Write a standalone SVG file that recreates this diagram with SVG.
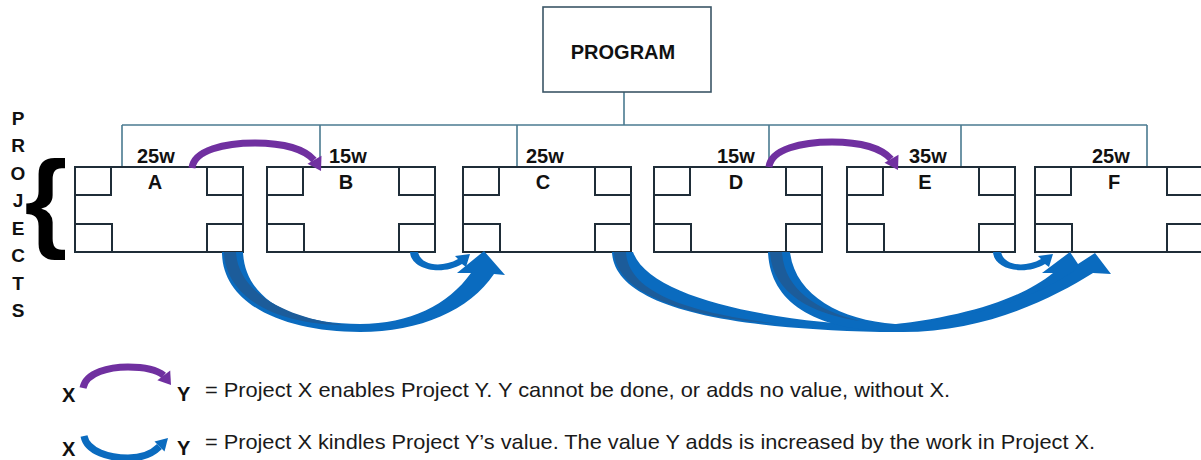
<svg xmlns="http://www.w3.org/2000/svg" width="1201" height="460" viewBox="0 0 1201 460">
<defs>
<style>
.bx{fill:#fff;stroke:#1f2d38;stroke-width:2}
.sq{fill:#fff;stroke:#1f2d38;stroke-width:2}
.ln{fill:none;stroke:#4a7a90;stroke-width:1.6}
.lb{font-family:"Liberation Sans",Arial,sans-serif;font-weight:bold;font-size:20px;fill:#111}
.pj{font-family:"Liberation Sans",Arial,sans-serif;font-weight:bold;font-size:19px;fill:#111;text-anchor:middle}
.lg{font-family:"Liberation Sans",Arial,sans-serif;font-size:21px;fill:#1a1a1a}
.pa{fill:none;stroke:#7030a0;stroke-width:7}
.ph{fill:#7030a0}
.bl{fill:#0a6bbf}
.bd{fill:#1c5c9a}
</style>
<g id="proj">
<rect class="bx" x="0" y="0" width="168" height="85"/>
<rect class="sq" x="0" y="0" width="36" height="28"/>
<rect class="sq" x="0" y="57" width="37" height="28"/>
<rect class="sq" x="132" y="0" width="36" height="28"/>
<rect class="sq" x="132" y="57" width="36" height="28"/>
</g>
</defs>
<rect width="1201" height="460" fill="#fff"/>

<g id="connectors">
<line class="ln" x1="624" y1="92" x2="624" y2="125"/>
<line class="ln" x1="122" y1="125" x2="1147" y2="125"/>
<line class="ln" x1="122" y1="125" x2="122" y2="167"/>
<line class="ln" x1="320" y1="125" x2="320" y2="167"/>
<line class="ln" x1="517" y1="125" x2="517" y2="167"/>
<line class="ln" x1="769" y1="125" x2="769" y2="167"/>
<line class="ln" x1="961" y1="125" x2="961" y2="167"/>
<line class="ln" x1="1147" y1="125" x2="1147" y2="167"/>
</g>

<g id="program">
<rect x="543" y="7" width="168" height="85" fill="#fff" stroke="#3b5666" stroke-width="1.6"/>
<text class="lb" x="623" y="59" text-anchor="middle" font-size="21">PROGRAM</text>
</g>

<g id="projects-label">
<text class="pj" x="18" y="125">P</text>
<text class="pj" x="18" y="152">R</text>
<text class="pj" x="18" y="180">O</text>
<text class="pj" x="18" y="207">J</text>
<text class="pj" x="18" y="235">E</text>
<text class="pj" x="18" y="262">C</text>
<text class="pj" x="18" y="290">T</text>
<text class="pj" x="18" y="317">S</text>
<text x="46" y="237" font-family="Liberation Sans,Arial,sans-serif" font-weight="bold" font-size="110" text-anchor="middle" fill="#000">{</text>
</g>

<g id="project-a"><use href="#proj" x="75" y="167"/><text class="lb" x="137" y="163">25w</text><text class="lb" x="155" y="189" text-anchor="middle">A</text></g>
<g id="project-b"><use href="#proj" x="267" y="167"/><text class="lb" x="329" y="163">15w</text><text class="lb" x="346" y="189" text-anchor="middle">B</text></g>
<g id="project-c"><use href="#proj" x="463" y="167"/><text class="lb" x="526" y="163">25w</text><text class="lb" x="543" y="189" text-anchor="middle">C</text></g>
<g id="project-d"><use href="#proj" x="654" y="167"/><text class="lb" x="717" y="163">15w</text><text class="lb" x="736" y="189" text-anchor="middle">D</text></g>
<g id="project-e"><use href="#proj" x="847" y="167"/><text class="lb" x="909" y="163">35w</text><text class="lb" x="925" y="189" text-anchor="middle">E</text></g>
<g id="project-f"><use href="#proj" x="1035" y="167"/><text class="lb" x="1092" y="163">25w</text><text class="lb" x="1114" y="189" text-anchor="middle">F</text></g>

<g id="dependency-arrows">
<g id="enable-ab">
<path class="pa" d="M192,168 C194,150 225,143 255,143 C285,143 305,150 314,160"/>
<polygon class="ph" points="321.5,155.7 307.5,163.7 321,171"/>
</g>
<g id="enable-de" transform="translate(577,-1)">
<path class="pa" d="M192,168 C194,150 225,143 255,143 C285,143 305,150 314,160"/>
<polygon class="ph" points="321.5,155.7 307.5,163.7 321,171"/>
</g>
<g id="kindle-ac">
<path class="bl" d="M222,252 C222,305 285,332 360,332 C420,332 470,310 494,274 L505,275 L484,251 L457,273 L471,273 C448,305 410,324 360,324 C290,324 245,298 243,252 Z"/>
<path class="bd" d="M224,252 L236,252 C238,292 285,318 345,325 C280,325 226,300 224,252 Z"/>
</g>
<g id="kindle-bc">
<path class="bl" d="M410,252 C411,270 442,276 462,264 L466,267 L470,254 L455,256 L458,259 C442,268 421,266 418,252 Z"/>
</g>
<g id="kindle-cf">
<path class="bl" d="M612,252 C614,300 700,328 880,332 C960,333 1030,305 1062,280 L1082,270 L1070,252 L1042,273 L1053,273 C1020,300 960,318 880,326 C780,322 650,300 633,252 Z"/>
<path class="bd" d="M614,252 L626,252 C628,290 680,312 780,324 C690,318 616,295 614,252 Z"/>
</g>
<g id="kindle-df">
<path class="bl" d="M768,252 C770,300 810,330 895,332 C980,334 1050,300 1093,273 L1111,274 L1095,253 L1078,264 L1075,270 C1040,295 970,322 895,324 C840,320 795,295 790,252 Z"/>
<path class="bd" d="M770,252 L782,252 C784,288 815,310 860,321 C810,314 772,292 770,252 Z"/>
</g>
<g id="kindle-ef" transform="translate(583,0)">
<path class="bl" d="M410,252 C411,270 442,276 462,264 L466,267 L470,254 L455,256 L458,259 C442,268 421,266 418,252 Z"/>
</g>
</g>

<g id="legend">
<text class="lb" x="62" y="402" font-size="19">X</text>
<path class="pa" d="M83,388 C86,372 110,367 128,367 C145,367 157,370 163.8,375.4"/>
<polygon class="ph" points="170.2,370.6 157.4,380.2 171,385"/>
<text class="lb" x="177" y="401" font-size="19">Y</text>
<text class="lg" x="205" y="397" textLength="745" lengthAdjust="spacingAndGlyphs">= Project X enables Project Y. Y cannot be done, or adds no value, without X.</text>

<text class="lb" x="62" y="456" font-size="19">X</text>
<path d="M84,436 C87,452 110,458 128,458 C145,458 154,452 159.5,446.5" fill="none" stroke="#0a6bbf" stroke-width="7"/>
<polygon class="bl" points="164.5,451.5 154.5,441.5 168,438"/>
<text class="lb" x="177" y="455" font-size="19">Y</text>
<text class="lg" x="205" y="449" textLength="890" lengthAdjust="spacingAndGlyphs">= Project X kindles Project Y’s value. The value Y adds is increased by the work in Project X.</text>
</g>
</svg>
